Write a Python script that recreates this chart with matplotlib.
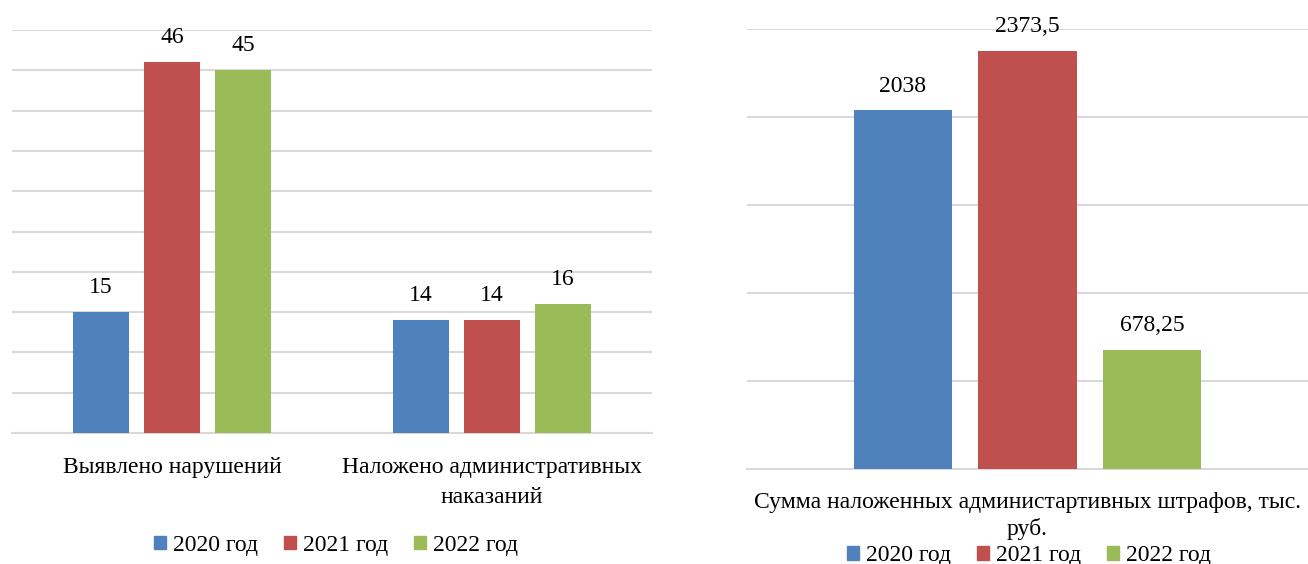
import matplotlib.pyplot as plt
from matplotlib.patches import Patch
import numpy as np

plt.rcParams['font.family'] = ['Liberation Serif', 'DejaVu Serif']

years = ['2020 год', '2021 год', '2022 год']
colors = ['#4f81bd', '#c0504d', '#9bbb59']

# left chart ------------------------------------------------
cats_left = ['Выявлено нарушений', 'Наложено административных\nнаказаний']
vals_left = [[15, 14], [46, 14], [45, 16]]   # per year
labels_left = [['15', '14'], ['46', '14'], ['45', '16']]

# right chart -----------------------------------------------
cats_right = ['Сумма наложенных администартивных штрафов, тыс.\nруб.']
vals_right = [[2038], [2373.5], [678.25]]
labels_right = [['2038'], ['2373,5'], ['678,25']]

W, H = 1308, 564
fig = plt.figure(figsize=(W / 100, H / 100), dpi=100)

FS = 17
grid_c = '#d9d9d9'


def draw(ax, cats, vals, labels, ymax, step, ls):
    x = np.arange(len(cats))
    for i, (v, lab) in enumerate(zip(vals, labels)):
        pos = x + (i - 1) * 0.222
        ax.bar(pos, v, width=0.175, color=colors[i], zorder=3)
        for p, vv, ll in zip(pos, v, lab):
            ax.annotate(ll, (p, vv), xytext=(0, 17.5), textcoords='offset points',
                        ha='center', va='center', fontsize=FS)
    ax.set_xlim(-0.5, len(cats) - 0.5)
    ax.set_ylim(0, ymax)
    ax.set_yticks(np.arange(0, ymax + step, step))
    ax.yaxis.grid(True, color=grid_c, linewidth=1.5, zorder=0)
    ax.set_yticklabels([])
    ax.tick_params(length=0)
    ax.set_xticks(x)
    ax.set_xticklabels(cats, fontsize=FS, linespacing=ls)
    for s in ['top', 'right', 'left']:
        ax.spines[s].set_visible(False)
    ax.spines['bottom'].set_color(grid_c)
    ax.spines['bottom'].set_linewidth(1.5)
    ax.set_axisbelow(True)


ax1 = fig.add_axes([12 / W, (H - 433) / H, 640 / W, 403 / H])
draw(ax1, cats_left, vals_left, labels_left, 50, 5, 1.6)
ax1.tick_params(axis='x', pad=17)

ax2 = fig.add_axes([747 / W, (H - 469) / H, 561 / W, 440 / H])
draw(ax2, cats_right, vals_right, labels_right, 2500, 500, 1.3)
ax2.tick_params(axis='x', pad=16.5)

handles = [Patch(color=c) for c in colors]
leg_kw = dict(ncol=3, frameon=False, fontsize=FS, handlelength=0.5, handleheight=0.5,
              handletextpad=0.3, columnspacing=1.1, loc='center')
fig.legend(handles, years, bbox_to_anchor=(336 / W, 1 - 545.5 / H), **leg_kw)
fig.legend(handles, years, bbox_to_anchor=(1029 / W, 1 - 556 / H), **leg_kw)

fig.savefig('out.png', dpi=100)
